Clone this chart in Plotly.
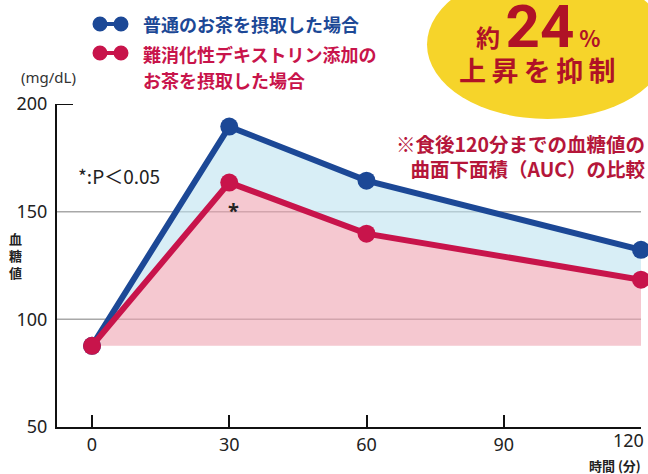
import plotly.graph_objects as go

# ---- data ----
time_min = [0, 30, 60, 120]
normal_tea = [87.7, 189.5, 164.4, 132.3]
dextrin_tea = [87.7, 163.5, 139.8, 118.4]
x_ticks = [0, 30, 60, 90, 120]
y_ticks = [50, 100, 150, 200]
grid_vals = [100, 150]

W, H = 648, 474
ML, MR, MT, MB = 57, 7, 104, 47
PW, PH = W - ML - MR, H - MT - MB


def px(x):
    return (x - ML) / PW


def py(y):
    return (H - MB - y) / PH


BLUE = "#1c4896"
RED = "#c8144b"
DARKRED = "#b01226"
JP = "Noto Sans CJK JP"
NUM = "Noto Sans"

base = [dextrin_tea[0]] * len(time_min)

fig = go.Figure()
fig.add_trace(go.Scatter(x=time_min, y=base, mode="lines", line=dict(width=0),
                         hoverinfo="skip", showlegend=False))
fig.add_trace(go.Scatter(x=time_min, y=dextrin_tea, mode="lines", line=dict(width=0),
                         fill="tonexty", fillcolor="rgba(238,163,177,0.6)",
                         hoverinfo="skip", showlegend=False))
fig.add_trace(go.Scatter(x=time_min, y=normal_tea, mode="lines+markers",
                         line=dict(color=BLUE, width=6), marker=dict(size=18, color=BLUE),
                         fill="tonexty", fillcolor="rgba(190,227,240,0.6)",
                         cliponaxis=False, showlegend=False))
fig.add_trace(go.Scatter(x=time_min, y=dextrin_tea, mode="lines+markers",
                         line=dict(color=RED, width=6), marker=dict(size=18, color=RED),
                         cliponaxis=False, showlegend=False))

shapes = []
for g in grid_vals:
    shapes.append(dict(type="line", xref="paper", yref="y", x0=0, x1=1, y0=g, y1=g,
                       line=dict(color="#a8a8a8", width=1.5), layer="below"))
# top tick of y axis
shapes.append(dict(type="line", xref="paper", yref="y", x0=0, x1=px(73), y0=y_ticks[-1], y1=y_ticks[-1],
                   line=dict(color="#111", width=2)))
# yellow ellipse
shapes.append(dict(type="circle", xref="paper", yref="paper",
                   x0=px(427), x1=px(668), y0=py(-30), y1=py(119),
                   fillcolor="#f6d42a", line=dict(width=0), layer="above"))
# legend icons
for yy, col in [(24, BLUE), (53, RED)]:
    shapes.append(dict(type="line", xref="paper", yref="paper", x0=px(100), x1=px(121),
                       y0=py(yy), y1=py(yy), line=dict(color=col, width=4)))
    for cx in (100, 121):
        shapes.append(dict(type="circle", xref="paper", yref="paper",
                           x0=px(cx - 7.5), x1=px(cx + 7.5), y0=py(yy + 7.5), y1=py(yy - 7.5),
                           fillcolor=col, line=dict(width=0)))

ann = []


def A(text, x, y, size, color, xanchor="left", family=JP, bold=False, yanchor="middle", align="left"):
    t = f"<b>{text}</b>" if bold else text
    ann.append(dict(text=t, x=px(x), y=py(y), xref="paper", yref="paper", xanchor=xanchor,
                    yanchor=yanchor, align=align, showarrow=False,
                    font=dict(size=size, color=color, family=family)))


A("普通のお茶を摂取した場合", 141, 24, 18, BLUE, bold=True)
A("難消化性デキストリン添加の", 141, 54, 18, RED, bold=True)
A("お茶を摂取した場合", 141, 80, 18, RED, bold=True)
A("(mg/dL)", 19, 77, 15, "#333", family=NUM)
A("*:P＜0.05", 76, 175, 19, "#222", family=JP)
A("*", 233, 210, 20, "#222", xanchor="center", family=NUM, bold=True)
A("※食後120分までの血糖値の<br>曲面下面積（AUC）の比較", 648, 156, 19.5, "#b5163a",
  xanchor="right", bold=True, align="right")
A("時間 (分)", 643, 465, 13, "#222", xanchor="right", bold=True)
# last x tick label placed inside the figure edge
A(str(x_ticks[-1]), 646, 440, 18, "#222", xanchor="right", family=NUM)
ann.append(dict(text="<b>血<br>糖<br>値</b>", x=px(15), y=py(255), xref="paper", yref="paper",
                xanchor="center", yanchor="middle", showarrow=False,
                font=dict(size=13, color="#222", family=JP)))
# badge text
ann.append(dict(
    text="<b><span style='font-size:24px;font-family:Noto Sans CJK JP'>約 </span>24"
         "<span style='font-size:22px;font-family:Noto Sans CJK JP'> %</span></b>",
    x=px(538), y=py(26), xref="paper", yref="paper", xanchor="center", yanchor="middle",
    showarrow=False, font=dict(size=60, color=DARKRED, family="Roboto")))
A("上\u2009昇\u2009を\u2009抑\u2009制", 537, 70, 27, DARKRED, xanchor="center", bold=True)

fig.update_layout(
    width=W, height=H, margin=dict(l=ML, r=MR, t=MT, b=MB),
    paper_bgcolor="white", plot_bgcolor="white",
    shapes=shapes, annotations=ann, showlegend=False,
    xaxis=dict(range=[-7.65, 120], tickvals=x_ticks,
               ticktext=[str(v) for v in x_ticks[:-1]] + [""],
               showline=True, linecolor="#111", linewidth=2,
               ticks="inside", ticklen=12, tickwidth=2, tickcolor="#111", showgrid=False, zeroline=False,
               tickfont=dict(size=18, color="#222", family=NUM), fixedrange=True),
    yaxis=dict(range=[50, 200], tickvals=y_ticks, showline=True, linecolor="#111", linewidth=2,
               ticks="", showgrid=False, zeroline=False, ticklabelstandoff=4,
               tickfont=dict(size=18, color="#222", family=NUM), fixedrange=True),
)

fig.write_html("out.html", config={"displayModeBar": False},
               post_script="document.body.style.margin='0';document.body.style.overflow='hidden';")
